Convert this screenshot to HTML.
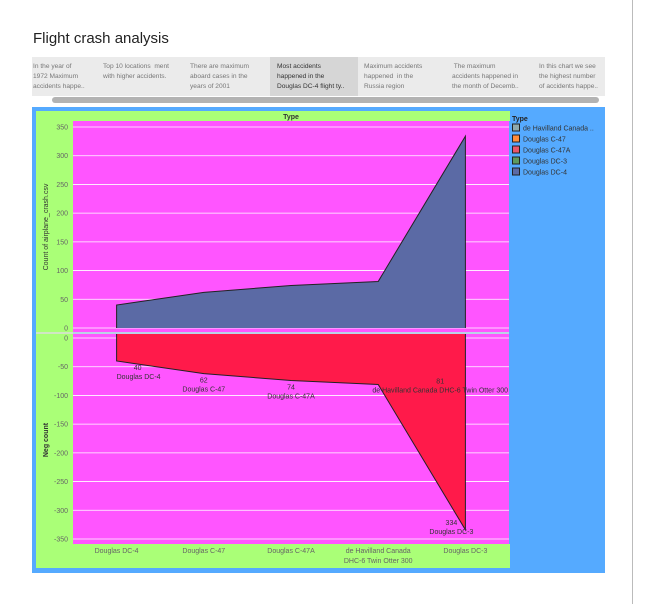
<!DOCTYPE html>
<html><head><meta charset="utf-8"><style>
body{margin:0;width:646px;height:604px;background:#fff;font-family:"Liberation Sans",sans-serif;position:relative;overflow:hidden}
.t{position:absolute}
</style></head><body>
<div class="t" style="left:33px;top:30px;font-size:15px;color:#222">Flight crash analysis</div>
<div class="t" style="left:632px;top:0;width:1px;height:604px;background:#bbb"></div>
<div class="t" style="left:32px;top:57px;width:573px;height:39px;background:#ebebeb"></div>
<div class="t" style="left:270px;top:57px;width:88px;height:39px;background:#d6d6d6"></div>
<div id="tabs"></div>
<div class="t" style="left:52px;top:97px;width:547px;height:6px;background:#b3b3b3;border-radius:3px"></div>
<svg class="t" style="left:0;top:0" width="646" height="604" id="chart"></svg>
<script>
const categories=["Douglas DC-4","Douglas C-47","Douglas C-47A","de Havilland Canada DHC-6 Twin Otter 300","Douglas DC-3"];
const xLabels=[["Douglas DC-4"],["Douglas C-47"],["Douglas C-47A"],["de Havilland Canada","DHC-6 Twin Otter 300"],["Douglas DC-3"]];
const counts=[40,62,74,81,334];
const negCounts=[-40,-62,-74,-81,-334];
const posTicks=[350,300,250,200,150,100,50,0];
const negTicks=[0,-50,-100,-150,-200,-250,-300,-350];
const legendItems=["de Havilland Canada ..","Douglas C-47","Douglas C-47A","Douglas DC-3","Douglas DC-4"];
const legendColors=["#8fa9ad","#ff8c3a","#e8566a","#5e9a5e","#5b6aa5"];
const tabTexts=[["In the year of","1972 Maximum","accidents happe.."],["Top 10 locations  ment","with higher accidents."],["There are maximum","aboard cases in the","years of 2001"],["Most accidents","happened in the","Douglas DC-4 flight ty.."],["Maximum accidents","happened  in the","Russia region"],[" The maximum","accidents happened in","the month of Decemb.."],["In this chart we see","the highest number","of accidents happe.."]];
const tabLefts=[33,103,190,277,364,452,539];
{
const tabsBox=document.getElementById('tabs');
tabTexts.forEach((lines,i)=>{const d=document.createElement('div');


d.className='t';d.style.cssText=`left:${tabLefts[i]}px;top:62px;width:${i==0?68:84}px;overflow:hidden;font-size:6.6px;line-height:10px;color:${i==3?'#333':'#777'};white-space:pre`;
d.textContent=lines.join('\n');tabsBox.appendChild(d);});

const NS='http://www.w3.org/2000/svg',svgRoot=document.getElementById('chart');
function el(tag,a,name,txt){const e=document.createElementNS(NS,tag);for(const k in a)e.setAttribute(k,a[k]);


if(txt!==undefined)e.textContent=txt;svgRoot.appendChild(e);return e;}
const L=73,R=509,band=(R-L)/categories.length;
const xPos=i=>L+band*(i+0.5);
const yP=v=>328-v*201/350;
const yN=v=>338+(-v)*201/350;
el('rect',{x:32,y:107,width:573,height:466,fill:'#55aaff'},'panel-background');
el('rect',{x:36,y:111,width:474,height:10,fill:'#aaff77'},'column-header');
el('text',{x:291,y:119,'font-size':7,'font-weight':'bold','text-anchor':'middle',fill:'#333'},'column-header-title','Type');
el('rect',{x:36,y:121,width:37,height:423,fill:'#aaff77'},'y-axis-area');
el('rect',{x:36,y:544,width:474,height:24,fill:'#aaff77'},'x-axis-area');
el('rect',{x:L,y:121,width:R-L,height:211,fill:'#ff55ff'},'top-plot-area');
el('rect',{x:L,y:334,width:R-L,height:210,fill:'#ff55ff'},'bottom-plot-area');
el('line',{x1:36,x2:R,y1:333,y2:333,stroke:'#ddd','stroke-width':1.5},'pane-divider');
posTicks.forEach(t=>{el('line',{x1:L,x2:R,y1:yP(t),y2:yP(t),stroke:'#fff','stroke-width':0.8},'grid-line');
el('text',{x:68,y:yP(t)+2.5,'font-size':7,'text-anchor':'end',fill:'#666'},'y-tick-label',t);});
negTicks.forEach(t=>{el('line',{x1:L,x2:R,y1:yN(t),y2:yN(t),stroke:'#fff','stroke-width':0.8},'grid-line');
el('text',{x:68,y:yN(t)+2.5,'font-size':7,'text-anchor':'end',fill:'#666'},'y-tick-label',t);});
el('text',{x:48,y:227,'font-size':7,fill:'#333',transform:'rotate(-90 48 227)','text-anchor':'middle'},'y-axis-title-top','Count of airplane_crash.csv');
el('text',{x:48,y:440,'font-size':7,'font-weight':'bold',fill:'#333',transform:'rotate(-90 48 440)','text-anchor':'middle'},'y-axis-title-bottom','Neg count');
let topPath=`M${xPos(0)},${yP(0)}`;counts.forEach((v,i)=>topPath+=` L${xPos(i)},${yP(v)}`);topPath+=` L${xPos(counts.length-1)},${yP(0)} Z`;
el('path',{d:topPath,fill:'#5b6aa5',stroke:'none'},'area-top');
let tl='';counts.forEach((v,i)=>tl+=(i?' L':`M${xPos(0)},${yP(0)} L`)+`${xPos(i)},${yP(v)}`);tl+=` L${xPos(counts.length-1)},${yP(0)}`;
el('path',{d:tl,fill:'none',stroke:'#222','stroke-width':1},'area-top-outline');
let botPath=`M${xPos(0)},${yN(0)-4}`;negCounts.forEach((v,i)=>botPath+=` L${xPos(i)},${yN(v)}`);botPath+=` L${xPos(negCounts.length-1)},${yN(0)-4} Z`;
el('path',{d:botPath,fill:'#ff1a4a',stroke:'none'},'area-bottom');
let bl='';negCounts.forEach((v,i)=>bl+=(i?' L':`M${xPos(0)},${yN(0)-4} L`)+`${xPos(i)},${yN(v)}`);bl+=` L${xPos(negCounts.length-1)},${yN(0)-4}`;
el('path',{d:bl,fill:'none',stroke:'#222','stroke-width':1},'area-bottom-outline');
negCounts.forEach((v,i)=>{const last=i==negCounts.length-1;const lx=i==0?xPos(i)+21:(last?xPos(i)-14:(i==3?xPos(i)+62:xPos(i)));
const ly=i==3?yN(-50)+17:(last?yN(v)-5:yN(v)+9);
el('text',{x:lx,y:ly,'font-size':7,'text-anchor':'middle',fill:'#333'},'value-label',-v);
el('text',{x:i==0?xPos(i)+22:lx,y:ly+9,'font-size':7,'text-anchor':'middle',fill:'#333'},'category-label',categories[i]);});
xLabels.forEach((ls,i)=>ls.forEach((s,j)=>el('text',{x:xPos(i),y:553+j*10,'font-size':7,'text-anchor':'middle',fill:'#666'},'x-tick-label',s)));
el('text',{x:512,y:121,'font-size':7,'font-weight':'bold',fill:'#222'},'legend-title','Type');
legendItems.forEach((s,i)=>{const y=124+i*11;
el('rect',{x:512.5,y:y,width:7,height:7,fill:legendColors[i],stroke:'#222','stroke-width':1},'legend-swatch');
el('text',{x:523,y:y+6.5,'font-size':7,fill:'#333'},'legend-entry',s);});
}
</script>
</body></html>
